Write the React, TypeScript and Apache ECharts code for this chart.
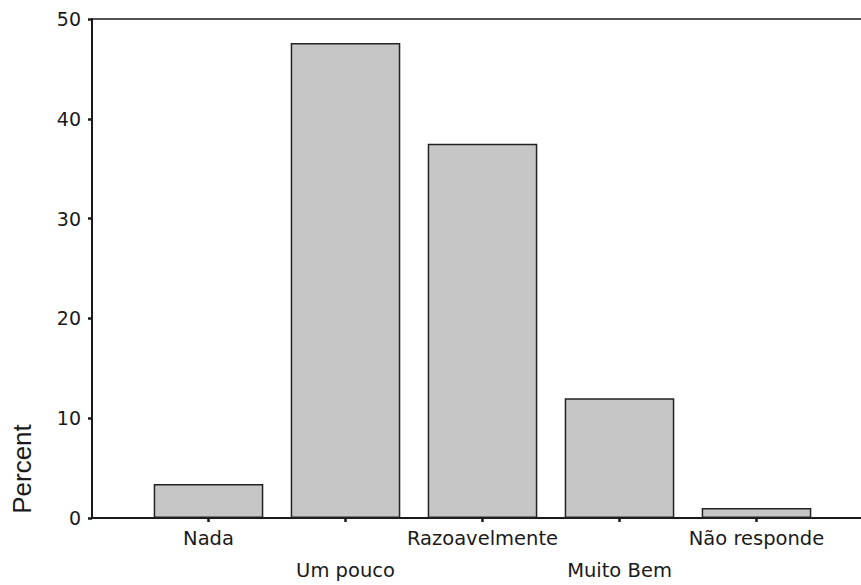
import React, { useEffect, useRef } from "react";
import * as echarts from "echarts";

const categories = ["Nada", "Um pouco", "Razoavelmente", "Muito Bem", "Não responde"];
const percentValues = [3.4, 47.6, 37.5, 12.0, 1.0];
const yTicks = { min: 0, max: 50, interval: 10 };
const yAxisTitle = "Percent";

export default function App() {
  const ref = useRef<HTMLDivElement>(null);
  useEffect(() => {
    if (!ref.current) return;
    const chart = echarts.init(ref.current, undefined, { renderer: "svg" });
    const font = "DejaVu Sans, Liberation Sans, Arial, sans-serif";
    const titleFont = "Liberation Sans, Arial, Helvetica, sans-serif";
    const ink = "#1a1a1a";
    chart.setOption({
      animation: false,
      backgroundColor: "#ffffff",
      textStyle: { fontFamily: font },
      grid: [
        { left: 92, right: 0, top: 19, bottom: 67, outerBoundsMode: "none", containLabel: false },
        { left: 140, right: 36, top: 19, bottom: 67, outerBoundsMode: "none", containLabel: false },
      ],
      xAxis: [
        {
          gridIndex: 0, type: "value", min: 0, max: 1, position: "bottom",
          axisLine: { show: true, lineStyle: { color: ink, width: 2 } },
          axisTick: { show: false }, axisLabel: { show: false }, splitLine: { show: false },
        },
        {
          gridIndex: 0, type: "value", min: 0, max: 1, position: "top",
          axisLine: { show: true, lineStyle: { color: ink, width: 1.5 } },
          axisTick: { show: false }, axisLabel: { show: false }, splitLine: { show: false },
        },
        {
          gridIndex: 1, type: "category", data: categories,
          axisLine: { show: false },
          axisTick: { show: true, alignWithLabel: true, length: 4, lineStyle: { color: ink, width: 2.5 } },
          axisLabel: {
            interval: 0, margin: 4.5, color: ink, fontSize: 19.5, fontFamily: font,
            lineHeight: 32, verticalAlign: "top",
            formatter: (v: string, i: number) => (i % 2 === 1 ? "\n" + v : v),
          },
        },
      ],
      yAxis: [
        {
          gridIndex: 0, type: "value", min: yTicks.min, max: yTicks.max, interval: yTicks.interval,
          axisLine: { show: true, lineStyle: { color: ink, width: 2 } },
          axisTick: { show: true, length: 4, lineStyle: { color: ink, width: 2.5 } },
          axisLabel: { color: ink, fontSize: 19, fontFamily: font, margin: 11 },
          splitLine: { show: false },
        },
        {
          gridIndex: 1, type: "value", min: yTicks.min, max: yTicks.max, show: false,
          splitLine: { show: false },
        },
      ],
      series: [
        {
          type: "bar", xAxisIndex: 2, yAxisIndex: 1, data: percentValues,
          barCategoryGap: "20%",
          itemStyle: { color: "#c6c6c6", borderColor: "#222222", borderWidth: 1.5 },
        },
      ],
      graphic: [
        {
          type: "text", x: 22, y: 469, rotation: Math.PI / 2,
          style: {
            text: yAxisTitle, fill: ink, fontSize: 26, fontFamily: titleFont,
            align: "center", verticalAlign: "middle",
          },
        },
      ],
    });
    return () => chart.dispose();
  }, []);
  return <div ref={ref} style={{ width: 861, height: 585, position: "absolute", left: 0, top: 0 }} />;
}
